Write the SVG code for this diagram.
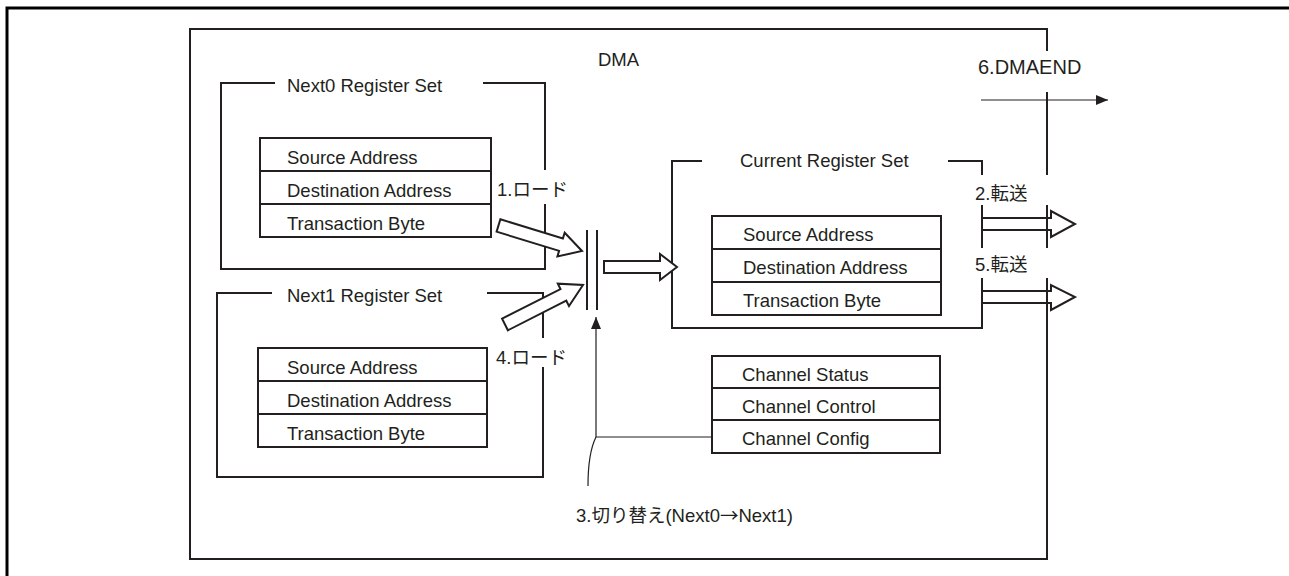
<svg xmlns="http://www.w3.org/2000/svg" width="1289" height="576" viewBox="0 0 1289 576">
<defs>
<style>
text{font-family:"Liberation Sans","Noto Sans CJK JP",sans-serif;font-size:18.5px;fill:#231f20}
.cjk{font-family:"Noto Sans CJK JP",sans-serif}
.box{fill:none;stroke:#231f20;stroke-width:2}
.tbl{fill:#fff;stroke:#231f20;stroke-width:2}
.blk{fill:#fff;stroke:#231f20;stroke-width:2;stroke-linejoin:miter}
.thin{fill:none;stroke:#231f20;stroke-width:1.2}
</style>
<marker id="ah" viewBox="0 0 12 10" refX="12" refY="5" markerWidth="12" markerHeight="10" markerUnits="userSpaceOnUse" orient="auto">
<path d="M0,0 L12,5 L0,10 Z" fill="#231f20"/>
</marker>
</defs>
<rect width="1289" height="576" fill="#fff"/>
<g id="frame">
<path d="M7,576 V8 H1289" fill="none" stroke="#000" stroke-width="3"/>
</g>
<g id="dma">
<path class="box" d="M1047,51 V29 H190 V559 H1047 V278 M1047,248 V205 M1047,175 V92"/>
<text x="598" y="66">DMA</text>
</g>
<g id="next0">
<path class="box" d="M275,83 H221 V269 H545 V204 M545,170 V83 H483"/>
<text x="287" y="92">Next0 Register Set</text>
<rect class="tbl" x="260" y="138" width="231" height="99"/>
<path class="box" d="M260,171 H491 M260,204 H491"/>
<text x="287" y="164">Source Address</text>
<text x="287" y="197">Destination Address</text>
<text x="287" y="230">Transaction Byte</text>
</g>
<g id="next1">
<path class="box" d="M272,293 H217 V477 H543 V367 M543,338 V293 H487"/>
<text x="287" y="302">Next1 Register Set</text>
<rect class="tbl" x="258" y="348" width="229" height="99"/>
<path class="box" d="M258,381 H487 M258,414 H487"/>
<text x="287" y="374">Source Address</text>
<text x="287" y="407">Destination Address</text>
<text x="287" y="440">Transaction Byte</text>
</g>
<g id="current">
<path class="box" d="M702,161 H672 V328 H982 V278 M982,248 V205 M982,175 V161 H948"/>
<text x="740" y="167">Current Register Set</text>
<rect class="tbl" x="712" y="216" width="229" height="99"/>
<path class="box" d="M712,249 H941 M712,282 H941"/>
<text x="743" y="241">Source Address</text>
<text x="743" y="274">Destination Address</text>
<text x="743" y="307">Transaction Byte</text>
</g>
<g id="channel">
<rect class="tbl" x="712" y="356" width="228" height="97"/>
<path class="box" d="M712,388 H940 M712,420 H940"/>
<text x="742" y="381">Channel Status</text>
<text x="742" y="413">Channel Control</text>
<text x="742" y="445">Channel Config</text>
</g>
<g id="switch">
<path class="box" d="M587,230 V310 M597,230 V310"/>
</g>
<g id="connectors">
<polygon class="blk" points="500.4,219.3 562.9,238.4 564.7,232.7 582,251 557.4,256.5 559.1,250.8 496.6,231.7"/>
<polygon class="blk" points="502.1,318.7 560.5,289.1 557.8,283.7 583,285 569,306.1 566.3,300.7 507.9,330.3"/>
<polygon class="blk" points="604,261 660,261 660,254 677,267 660,280 660,273 604,273"/>
<polyline class="blk" style="fill:none" points="982,218 1051,218 1051,211 1075,224 1051,237 1051,230 982,230"/>
<polyline class="blk" style="fill:none" points="982,291 1051,291 1051,285 1075,297 1051,310 1051,303 982,303"/>
<path class="thin" d="M712,437 H596 V317" marker-end="url(#ah)"/>
<path class="thin" d="M596,437 C591,447 588,460 588,486"/>
<path class="thin" d="M981,100 H1108" marker-end="url(#ah)"/>
</g>
<g id="labels">
<text x="497" y="196">1.ロード</text>
<text x="496" y="364">4.ロード</text>
<text x="975" y="200">2.転送</text>
<text x="975" y="271">5.転送</text>
<text x="978" y="74" style="font-size:20px">6.DMAEND</text>
<text x="576" y="522">3.切り替え(Next0<tspan class="cjk">→</tspan>Next1)</text>
</g>
</svg>
